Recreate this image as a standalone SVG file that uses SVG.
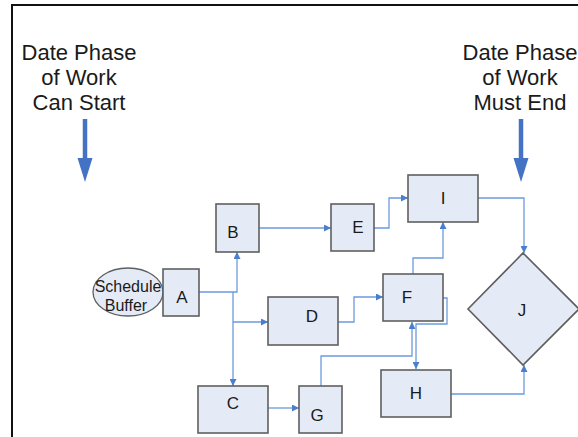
<svg xmlns="http://www.w3.org/2000/svg" width="578" height="437" viewBox="0 0 578 437">
  <defs>
    <marker id="tip" viewBox="0 0 10 10" refX="10" refY="5" markerWidth="7" markerHeight="7" markerUnits="userSpaceOnUse" orient="auto">
      <path d="M0,0 L10,5 L0,10 Z" fill="#4a7fd0"/>
    </marker>
    <style>
      .box { fill: #e5ebf6; stroke: #5f5f5f; stroke-width: 1.6; }
      .lbl { font-family: "Liberation Sans", Arial, sans-serif; font-size: 17px; fill: #1a1a1a; text-anchor: middle; }
      .head { font-family: "Liberation Sans", Arial, sans-serif; font-size: 22px; fill: #1a1a1a; text-anchor: middle; }
      .small { font-family: "Liberation Sans", Arial, sans-serif; font-size: 16px; fill: #1a1a1a; text-anchor: middle; }
      .wire { fill: none; stroke: #6b9ade; stroke-width: 1.3; }
      .arrow { marker-end: url(#tip); }
      .big { stroke: #4472c4; stroke-width: 4.5; }
    </style>
  </defs>

  <!-- outer frame -->
  <rect x="12" y="5" width="620" height="480" fill="#ffffff" stroke="#111111" stroke-width="2"/>

  <!-- milestone captions -->
  <g id="start-caption">
    <text class="head" x="79" y="60">Date Phase</text>
    <text class="head" x="79" y="85">of Work</text>
    <text class="head" x="79" y="110">Can Start</text>
    <line class="big" x1="85" y1="119" x2="85" y2="160"/>
    <path d="M77.5,158 L92.5,158 L85,182 Z" fill="#4472c4"/>
  </g>
  <g id="end-caption">
    <text class="head" x="520" y="60">Date Phase</text>
    <text class="head" x="520" y="85">of Work</text>
    <text class="head" x="520" y="110">Must End</text>
    <line class="big" x1="521" y1="119" x2="521" y2="160"/>
    <path d="M513.5,158 L528.5,158 L521,182 Z" fill="#4472c4"/>
  </g>

  <!-- connectors -->
  <g id="connectors">
    <!-- A to B -->
    <polyline class="wire arrow" points="199,292 237,292 237,252"/>
    <!-- A to C -->
    <polyline class="wire arrow" points="233,292 233,386"/>
    <!-- A to D -->
    <polyline class="wire arrow" points="233,322 268,322"/>
    <!-- B to E -->
    <polyline class="wire arrow" points="259,228 331,228"/>
    <!-- E to I -->
    <polyline class="wire arrow" points="374,228 389,228 389,198 408,198"/>
    <!-- D to F -->
    <polyline class="wire arrow" points="338,322 354,322 354,297 383,297"/>
    <!-- F to I -->
    <polyline class="wire arrow" points="413,274 413,258 443,258 443,222"/>
    <!-- C to G -->
    <polyline class="wire arrow" points="268,408 299,408"/>
    <!-- G to F -->
    <polyline class="wire arrow" points="321,386 321,356 412,356 412,322"/>
    <!-- F to H -->
    <polyline class="wire arrow" points="443,298 447,298 447,324 416,324 416,369"/>
    <!-- I to J -->
    <polyline class="wire arrow" points="478,198 524,198 524,253"/>
    <!-- H to J -->
    <polyline class="wire arrow" points="451,394 524,394 524,365"/>
  </g>

  <!-- nodes -->
  <g id="buffer">
    <ellipse cx="128" cy="292" rx="35" ry="24" fill="#e5ebf6" stroke="#5f5f5f" stroke-width="1.3"/>
    <text class="small" x="128" y="292">Schedule</text>
    <text class="small" x="126" y="311">Buffer</text>
  </g>
  <g id="node-a">
    <rect class="box" x="163" y="269" width="36" height="47"/>
    <text class="lbl" x="182" y="303">A</text>
  </g>
  <g id="node-b">
    <rect class="box" x="216" y="204" width="43" height="48"/>
    <text class="lbl" x="233" y="238">B</text>
  </g>
  <g id="node-c">
    <rect class="box" x="198" y="386" width="70" height="47"/>
    <text class="lbl" x="233" y="409">C</text>
  </g>
  <g id="node-d">
    <rect class="box" x="268" y="297" width="70" height="48"/>
    <text class="lbl" x="312" y="322">D</text>
  </g>
  <g id="node-e">
    <rect class="box" x="331" y="204" width="43" height="47"/>
    <text class="lbl" x="358" y="233">E</text>
  </g>
  <g id="node-f">
    <rect class="box" x="383" y="274" width="60" height="47"/>
    <text class="lbl" x="407" y="303">F</text>
  </g>
  <g id="node-g">
    <rect class="box" x="299" y="386" width="43" height="47"/>
    <text class="lbl" x="317" y="421">G</text>
  </g>
  <g id="node-h">
    <rect class="box" x="381" y="370" width="70" height="47"/>
    <text class="lbl" x="416" y="399">H</text>
  </g>
  <g id="node-i">
    <rect class="box" x="408" y="175" width="70" height="47"/>
    <text class="lbl" x="443" y="204">I</text>
  </g>
  <g id="node-j">
    <polygon class="box" points="523,253 579,309 523,365 468,309" stroke-width="1.3"/>
    <text class="lbl" x="522" y="316">J</text>
  </g>
</svg>
